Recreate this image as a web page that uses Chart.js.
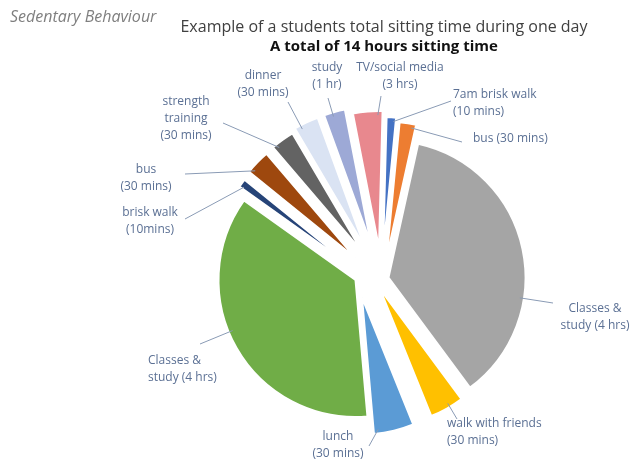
<!DOCTYPE html>
<html>
<head>
<meta charset="utf-8">
<script src="https://cdn.jsdelivr.net/npm/chart.js@4.4.1/dist/chart.umd.min.js"></script>
<style>
  html, body { margin: 0; padding: 0; background: #ffffff; }
  #wrap { width: 640px; height: 460px; position: relative; }
</style>
</head>
<body>
<div id="wrap"><canvas id="c" width="640" height="460"></canvas></div>
<script>
// ---- data ----
const categories = [
  'TV/social media (3 hrs)', '7am brisk walk (10 mins)', 'bus (30 mins)',
  'Classes & study (4 hrs)', 'walk with friends (30 mins)', 'lunch (30 mins)',
  'Classes & study (4 hrs)', 'brisk walk (10mins)', 'bus (30 mins)',
  'strength training (30 mins)', 'dinner (30 mins)', 'study (1 hr)'
];
// slice sizes as drawn in the picture (angular share, degrees)
const sliceShares = [12.5, 4, 7, 131, 14.5, 17, 130.5, 3.5, 10.5, 10, 10.5, 9];
const labelLines = [
  ['TV/social media', '(3 hrs)'],
  ['7am brisk walk', '(10 mins)'],
  ['bus (30 mins)'],
  ['Classes &', 'study (4 hrs)'],
  ['walk with friends', '(30 mins)'],
  ['lunch', '(30 mins)'],
  ['Classes &', 'study (4 hrs)'],
  ['brisk walk', '(10mins)'],
  ['bus', '(30 mins)'],
  ['strength', 'training', '(30 mins)'],
  ['dinner', '(30 mins)'],
  ['study', '(1 hr)']
];
const titleText = 'Example of a students total sitting time during one day';
const subtitleText = 'A total of 14 hours sitting time';
const cornerText = 'Sedentary Behaviour';

// ---- styles / layout ----
const sliceColors = ['#E8888E', '#4472C4', '#ED7D31', '#A5A5A5', '#FFC000', '#5B9BD5',
                     '#70AD47', '#264478', '#9E480E', '#636363', '#DAE3F3', '#9DA9D6'];
// explosion of each slice away from the pie centre, [dx, dy] px
const sliceShift = [[10, -26], [14, -20], [17.5, -15.5], [19.5, 3.5], [11, 15], [-7, 23.5],
                    [-13.5, 6], [-18, -8], [-13.5, -16], [-7, -22.5], [-4.5, -27.5], [2, -30]];
// label box: [x, y of first line, align, leader start x, leader start y]
const labelBoxes = [
  [400, 68, 'center', 381, 96],
  [453, 95, 'left', 451, 101],
  [473, 139, 'left', 462, 142],
  [595, 309, 'center', 553, 303],
  [447, 424, 'left', 457, 419],
  [338, 437, 'center', 369, 446],
  [148, 361, 'left', 200, 344],
  [150, 213, 'center', 185, 219],
  [146, 170, 'center', 185, 174],
  [186, 102, 'center', 223, 123],
  [263, 76, 'center', 288, 102],
  [327, 68, 'center', 328, 98]
];

const explodePlugin = {
  id: 'explode',
  afterDatasetUpdate(chart, args) {
    const meta = chart.getDatasetMeta(args.index);
    const ca = chart.chartArea;
    const cx = (ca.left + ca.right) / 2, cy = (ca.top + ca.bottom) / 2;
    meta.data.forEach((arc, i) => {
      arc.x = cx + sliceShift[i][0];
      arc.y = cy + sliceShift[i][1];
    });
  }
};

const textPlugin = {
  id: 'texts',
  afterDatasetsDraw(chart) {
    const ctx = chart.ctx;
    const meta = chart.getDatasetMeta(0);
    ctx.save();
    // leader lines
    ctx.strokeStyle = '#8A9BB5';
    ctx.lineWidth = 1;
    meta.data.forEach((arc, i) => {
      const b = labelBoxes[i];
      const sx = b[3], sy = b[4];
      let ang = Math.atan2(sy - arc.y, sx - arc.x);
      const s = arc.startAngle, e = arc.endAngle;
      while (ang < s) ang += Math.PI * 2;
      while (ang > s + Math.PI * 2) ang -= Math.PI * 2;
      const m = Math.min(2 * Math.PI / 180, (e - s) * 0.25);
      if (ang > e - m) {
        const dEnd = ang - (e - m);
        const dStart = (s + Math.PI * 2 + m) - ang;
        ang = dEnd < dStart ? e - m : s + m;
      } else if (ang < s + m) ang = s + m;
      const r = arc.outerRadius * 0.97;
      ctx.beginPath();
      ctx.moveTo(sx, sy);
      ctx.lineTo(arc.x + Math.cos(ang) * r, arc.y + Math.sin(ang) * r);
      ctx.stroke();
    });
    // labels
    ctx.fillStyle = '#5B7094';
    ctx.font = '12px "Open Sans", sans-serif';
    ctx.textBaseline = 'middle';
    labelLines.forEach((lines, i) => {
      const b = labelBoxes[i];
      ctx.textAlign = b[2];
      lines.forEach((t, k) => ctx.fillText(t, b[0], b[1] + k * 16.8));
    });
    // titles
    ctx.textAlign = 'left';
    ctx.fillStyle = '#7F7F7F';
    ctx.font = 'italic 16px "Open Sans", sans-serif';
    ctx.fillText(cornerText, 10, 17);
    ctx.textAlign = 'center';
    ctx.fillStyle = '#404040';
    ctx.font = '16px "Open Sans", sans-serif';
    ctx.fillText(titleText, 384, 27);
    ctx.fillStyle = '#111111';
    ctx.font = 'bold 15px "Open Sans", sans-serif';
    ctx.fillText(subtitleText, 384, 47);
    ctx.restore();
  }
};

new Chart(document.getElementById('c'), {
  type: 'pie',
  data: {
    labels: categories,
    datasets: [{
      data: sliceShares,
      backgroundColor: sliceColors,
      borderColor: '#ffffff',
      borderWidth: 2,
      radius: 137
    }]
  },
  options: {
    responsive: false,
    animation: false,
    events: [],
    rotation: -11,
    layout: { padding: { left: 98, right: 0, top: 88, bottom: 0 } },
    plugins: { legend: { display: false }, tooltip: { enabled: false }, title: { display: false } }
  },
  plugins: [explodePlugin, textPlugin]
});
</script>
</body>
</html>
